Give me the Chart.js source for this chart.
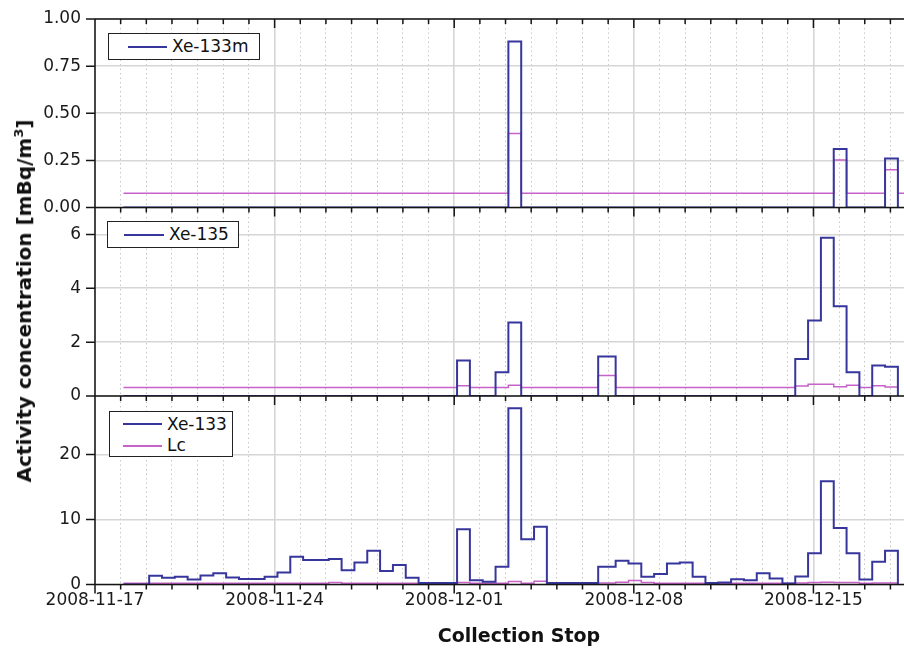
<!DOCTYPE html>
<html>
<head>
<meta charset="utf-8">
<script src="https://cdn.jsdelivr.net/npm/chart.js@4.4.1/dist/chart.umd.min.js"></script>
<style>
body { margin: 0; overflow: hidden; background: #fff; font-family: 'DejaVu Sans', sans-serif; }
#wrap { position: relative; width: 904px; height: 649px; overflow: hidden; }
#c { position: absolute; left: 0; top: 0; }
.leg { position: absolute; background: #fff; border: 1px solid #222; box-sizing: border-box; }
.leg .ln { position: absolute; height: 0; border-top: 2px solid; }
.leg .tx { position: absolute; font-size: 17px; line-height: 20px; color: #111; white-space: nowrap; }
#ytitle { position: absolute; left: 24px; top: 301px; transform: translate(-50%, -50%) rotate(-90deg);
          font-weight: bold; font-size: 20px; line-height: 24px; white-space: nowrap; color: #111; }
#ytitle sup { font-size: 13px; line-height: 0; }
</style>
</head>
<body>
<div id="wrap">
  <canvas id="c" width="950" height="649"></canvas>
  <div id="ytitle">Activity concentration [mBq/m<sup>3</sup>]</div>
</div>
<script>
// start of the first sample, then the collection stop of every sample
const sampleEdges = [
  '2008-11-18T02:40', '2008-11-18T14:40', '2008-11-19T02:40', '2008-11-19T14:40', '2008-11-20T02:40',
  '2008-11-20T14:40', '2008-11-21T02:40', '2008-11-21T14:40', '2008-11-22T02:40', '2008-11-22T14:40',
  '2008-11-23T02:40', '2008-11-23T14:40', '2008-11-24T02:40', '2008-11-24T14:40', '2008-11-25T02:40',
  '2008-11-25T14:40', '2008-11-26T02:40', '2008-11-26T14:40', '2008-11-27T02:40', '2008-11-27T14:40',
  '2008-11-28T02:40', '2008-11-28T14:40', '2008-11-29T02:40', '2008-11-29T14:40', '2008-11-30T02:40',
  '2008-11-30T14:40', '2008-12-01T02:40', '2008-12-01T14:40', '2008-12-02T02:40', '2008-12-02T14:40',
  '2008-12-03T02:40', '2008-12-03T14:40', '2008-12-04T02:40', '2008-12-04T14:40', '2008-12-05T02:40',
  '2008-12-05T14:40', '2008-12-06T02:40', '2008-12-06T14:40', '2008-12-07T07:00', '2008-12-07T19:00',
  '2008-12-08T07:00', '2008-12-08T19:00', '2008-12-09T07:00', '2008-12-09T19:00', '2008-12-10T07:00',
  '2008-12-10T19:00', '2008-12-11T07:00', '2008-12-11T19:00', '2008-12-12T07:00', '2008-12-12T19:00',
  '2008-12-13T07:00', '2008-12-13T19:00', '2008-12-14T07:00', '2008-12-14T19:00', '2008-12-15T07:00',
  '2008-12-15T19:00', '2008-12-16T07:00', '2008-12-16T19:00', '2008-12-17T07:00', '2008-12-17T19:00',
  '2008-12-18T07:00', '2008-12-18T19:00'
];

const xe133m = [
  0, 0, 0, 0, 0, 0, 0, 0, 0, 0,
  0, 0, 0, 0, 0, 0, 0, 0, 0, 0,
  0, 0, 0, 0, 0, 0, 0, 0, 0, 0,
  0.88, 0, 0, 0, 0, 0, 0, 0, 0, 0,
  0, 0, 0, 0, 0, 0, 0, 0, 0, 0,
  0, 0, 0, 0, 0, 0.31, 0, 0, 0, 0.26
];
const lcXe133m = [
  0.076, 0.076, 0.076, 0.076, 0.076, 0.076, 0.076, 0.076, 0.076, 0.076,
  0.076, 0.076, 0.076, 0.076, 0.076, 0.076, 0.076, 0.076, 0.076, 0.076,
  0.076, 0.076, 0.076, 0.076, 0.076, 0.076, 0.076, 0.076, 0.076, 0.076,
  0.393, 0.076, 0.076, 0.076, 0.076, 0.076, 0.076, 0.076, 0.076, 0.076,
  0.076, 0.076, 0.076, 0.076, 0.076, 0.076, 0.076, 0.076, 0.076, 0.076,
  0.076, 0.076, 0.076, 0.076, 0.076, 0.252, 0.076, 0.076, 0.076, 0.2,
  0.076
];
const xe135 = [
  0, 0, 0, 0, 0, 0, 0, 0, 0, 0,
  0, 0, 0, 0, 0, 0, 0, 0, 0, 0,
  0, 0, 0, 0, 0, 0, 1.32, 0, 0, 0.88,
  2.73, 0, 0, 0, 0, 0, 0, 1.47, 0, 0,
  0, 0, 0, 0, 0, 0, 0, 0, 0, 0,
  0, 0, 1.37, 2.8, 5.88, 3.33, 0.88, 0, 1.13, 1.09
];
const lcXe135 = [
  0.32, 0.32, 0.32, 0.32, 0.32, 0.32, 0.32, 0.32, 0.32, 0.32,
  0.32, 0.32, 0.32, 0.32, 0.32, 0.32, 0.32, 0.32, 0.32, 0.32,
  0.32, 0.32, 0.32, 0.32, 0.32, 0.32, 0.38, 0.32, 0.32, 0.32,
  0.40, 0.32, 0.32, 0.32, 0.32, 0.32, 0.32, 0.76, 0.32, 0.32,
  0.32, 0.32, 0.32, 0.32, 0.32, 0.32, 0.32, 0.32, 0.32, 0.32,
  0.32, 0.32, 0.37, 0.44, 0.44, 0.34, 0.40, 0.32, 0.38, 0.33
];
const xe133 = [
  0, 0, 1.33, 1.02, 1.18, 0.77, 1.39, 1.75, 1.08, 0.85,
  0.85, 1.18, 1.86, 4.27, 3.76, 3.76, 3.92, 2.21, 3.4, 5.2,
  2.06, 3.0, 1.02, 0.25, 0.25, 0.25, 8.5, 0.67, 0.41, 2.73,
  27.1, 6.96, 8.9, 0.25, 0.25, 0.25, 0.25, 2.73, 3.65, 3.25,
  1.18, 1.6, 3.25, 3.4, 1.18, 0.25, 0.3, 0.82, 0.67, 1.75,
  0.93, 0.15, 1.23, 4.8, 15.9, 8.7, 4.8, 0.77, 3.5, 5.2
];
const lcXe133 = [
  0.18, 0.18, 0.18, 0.18, 0.18, 0.18, 0.18, 0.18, 0.18, 0.18,
  0.18, 0.18, 0.18, 0.18, 0.18, 0.18, 0.3, 0.18, 0.18, 0.18,
  0.18, 0.18, 0.18, 0.18, 0.18, 0.18, 0.3, 0.18, 0.18, 0.2,
  0.45, 0.2, 0.5, 0.2, 0.2, 0.2, 0.2, 0.25, 0.35, 0.6,
  0.3, 0.2, 0.2, 0.2, 0.2, 0.2, 0.2, 0.2, 0.2, 0.2,
  0.2, 0.2, 0.22, 0.3, 0.35, 0.3, 0.3, 0.2, 0.25, 0.25
];

const dateTicks = ['2008-11-17', '2008-11-24', '2008-12-01', '2008-12-08', '2008-12-15'];
const xe133mTicks = [0, 0.25, 0.5, 0.75, 1];
const xe135Ticks = [0, 2, 4, 6];
const xe133Ticks = [0, 10, 20];

const BLUE = '#36369c';
const PINK = '#c862c8';
const INK = '#151515';

// x axis in days since the first date label
const t0 = Date.parse(dateTicks[0] + 'T00:00Z');
const toDay = s => (Date.parse(s + 'Z') - t0) / 864e5;
const edgeDays = sampleEdges.map(toDay);
const labelDays = dateTicks.map(d => toDay(d + 'T00:00'));

Chart.defaults.font.family = "'DejaVu Sans', sans-serif";
Chart.defaults.font.size = 17;
Chart.defaults.color = '#1a1a1a';

function stepLine(label, values, color, width, yAxisID, dropAtEnd) {
    var pts = values.map(function(v, i) { return {x: edgeDays[i], y: v}; });
    var n = values.length;
    pts.push({x: edgeDays[n], y: dropAtEnd ? 0 : values[n - 1]});
    return {
        label: label,
        data: pts,
        xAxisID: 'x',
        yAxisID: yAxisID,
        borderColor: color,
        backgroundColor: color,
        borderWidth: width,
        stepped: 'before',
        pointRadius: 0,
        fill: false,
        borderJoinStyle: 'miter'
    };
}

function near(list, v) {
    return list.some(function(l) { return Math.abs(l - v) < 1e-6; });
}

function panelScale(max, step, labels, weight, fmt) {
    var major = function(c) { return c.tick && near(labels, c.tick.value); };
    return {
        type: 'linear',
        position: 'left',
        stack: 'panels',
        stackWeight: 1,
        weight: weight,
        min: 0,
        max: max,
        afterBuildTicks: function(s) {
            var t = [];
            for (var k = 0; k * step <= max + 1e-9; k++) t.push({value: +(k * step).toFixed(4)});
            s.ticks = t;
        },
        afterFit: function(s) {
            s.width = 95;
            // labels may run past the panel edge, no extra room needed
            s.paddingTop = 0;
            s.paddingBottom = 0;
        },
        ticks: {
            padding: 14,
            callback: function(v) { return near(labels, v) ? fmt(v) : ''; }
        },
        grid: {
            drawTicks: false,
            color: function(c) { return major(c) ? '#d6d6d6' : '#c6c6c6'; },
            lineWidth: function(c) { return major(c) ? 1.6 : 1; }
        },
        border: {
            display: false,
            dash: function(c) { return (c.tick && !major(c)) ? [1.5, 3] : []; }
        }
    };
}

// frame lines and tick marks of all three panels
const framePlugin = {
    id: 'frame',
    afterDraw: function(chart) {
        var ctx = chart.ctx, a = chart.chartArea, sc = chart.scales;
        var panels = [sc.yTop, sc.yMid, sc.yBot];
        var rows = [panels[0].top].concat(panels.map(function(p) { return p.bottom; }));
        ctx.save();
        ctx.strokeStyle = INK;
        ctx.lineWidth = 1.5;
        ctx.beginPath();
        rows.forEach(function(y) { ctx.moveTo(a.left - 0.75, y); ctx.lineTo(a.right, y); });
        ctx.moveTo(a.left, a.top); ctx.lineTo(a.left, a.bottom);
        ctx.moveTo(a.right, a.top); ctx.lineTo(a.right, a.bottom);
        sc.x.ticks.forEach(function(t) {
            var px = sc.x.getPixelForValue(t.value);
            var len = t.label ? 9 : 5;
            rows.forEach(function(y) { ctx.moveTo(px, y); ctx.lineTo(px, y + len); });
        });
        panels.forEach(function(p) {
            p.ticks.forEach(function(t) {
                var py = p.getPixelForValue(t.value);
                var len = t.label ? 9 : 5;
                ctx.moveTo(a.left - len, py); ctx.lineTo(a.left, py);
            });
        });
        ctx.stroke();
        ctx.restore();
    }
};

const xMajor = function(c) { return c.tick && near(labelDays, c.tick.value); };

const config = {
    type: 'line',
    data: {
        datasets: [
            stepLine('Xe-133m', xe133m, BLUE, 2, 'yTop', true),
            stepLine('Xe-135', xe135, BLUE, 2, 'yMid', true),
            stepLine('Xe-133', xe133, BLUE, 2, 'yBot', true),
            stepLine('Lc', lcXe133m, PINK, 1.5, 'yTop', false),
            stepLine('Lc', lcXe135, PINK, 1.5, 'yMid', false),
            stepLine('Lc', lcXe133, PINK, 1.5, 'yBot', false)
        ]
    },
    options: {
        responsive: false,
        animation: false,
        devicePixelRatio: 1,
        layout: { autoPadding: false, padding: {top: 19, right: 7, bottom: 0, left: 0} },
        plugins: {
            legend: { display: false },
            tooltip: { enabled: false }
        },
        scales: {
            x: {
                type: 'linear',
                position: 'bottom',
                min: 0,
                max: 33.05,
                afterBuildTicks: function(s) {
                    var t = [];
                    for (var d = 0; d <= 33; d++) t.push({value: d});
                    s.ticks = t;
                },
                afterFit: function(s) { s.height = 64.5; },
                ticks: {
                    padding: 6,
                    maxRotation: 0,
                    autoSkip: false,
                    callback: function(v) {
                        var i = labelDays.findIndex(function(d) { return Math.abs(d - v) < 1e-6; });
                        return i >= 0 ? dateTicks[i] : '';
                    }
                },
                grid: {
                    drawTicks: false,
                    color: function(c) { return xMajor(c) ? '#d6d6d6' : '#c6c6c6'; },
                    lineWidth: function(c) { return xMajor(c) ? 1.6 : 1; }
                },
                border: {
                    display: false,
                    dash: function(c) { return (c.tick && !xMajor(c)) ? [1.5, 3] : []; }
                },
                title: {
                    display: true,
                    text: 'Collection Stop',
                    color: '#111',
                    font: {size: 19, weight: 'bold'},
                    padding: {top: 0, bottom: 1}
                }
            },
            yBot: panelScale(29, 5, xe133Ticks, 1, function(v) { return String(v); }),
            yMid: panelScale(7, 1, xe135Ticks, 2, function(v) { return String(v); }),
            yTop: panelScale(1, 0.125, xe133mTicks, 3, function(v) { return v.toFixed(2); })
        }
    },
    plugins: [framePlugin]
};

const chart = new Chart(document.getElementById('c'), config);

// legend boxes inside each panel
const legends = [
    {box: [108, 33, 152, 27], rows: [{name: 'Xe-133m', color: BLUE, cy: 13}], line: [19, 39], text: 63},
    {box: [107, 221, 132, 27], rows: [{name: 'Xe-135', color: BLUE, cy: 13}], line: [16, 40], text: 61},
    {box: [109, 411, 124, 46], rows: [{name: 'Xe-133', color: BLUE, cy: 12.5}, {name: 'Lc', color: PINK, cy: 34}], line: [12.5, 39], text: 57}
];
const wrap = document.getElementById('wrap');
legends.forEach(function(l) {
    var box = document.createElement('div');
    box.className = 'leg';
    box.style.left = l.box[0] + 'px';
    box.style.top = l.box[1] + 'px';
    box.style.width = l.box[2] + 'px';
    box.style.height = l.box[3] + 'px';
    l.rows.forEach(function(r) {
        var ln = document.createElement('div');
        ln.className = 'ln';
        ln.style.left = l.line[0] + 'px';
        ln.style.width = l.line[1] + 'px';
        ln.style.top = (r.cy - 1.5) + 'px';
        ln.style.borderColor = r.color;
        var tx = document.createElement('div');
        tx.className = 'tx';
        tx.style.left = l.text + 'px';
        tx.style.top = (r.cy - 11) + 'px';
        tx.textContent = r.name;
        box.appendChild(ln);
        box.appendChild(tx);
    });
    wrap.appendChild(box);
});
</script>
</body>
</html>
